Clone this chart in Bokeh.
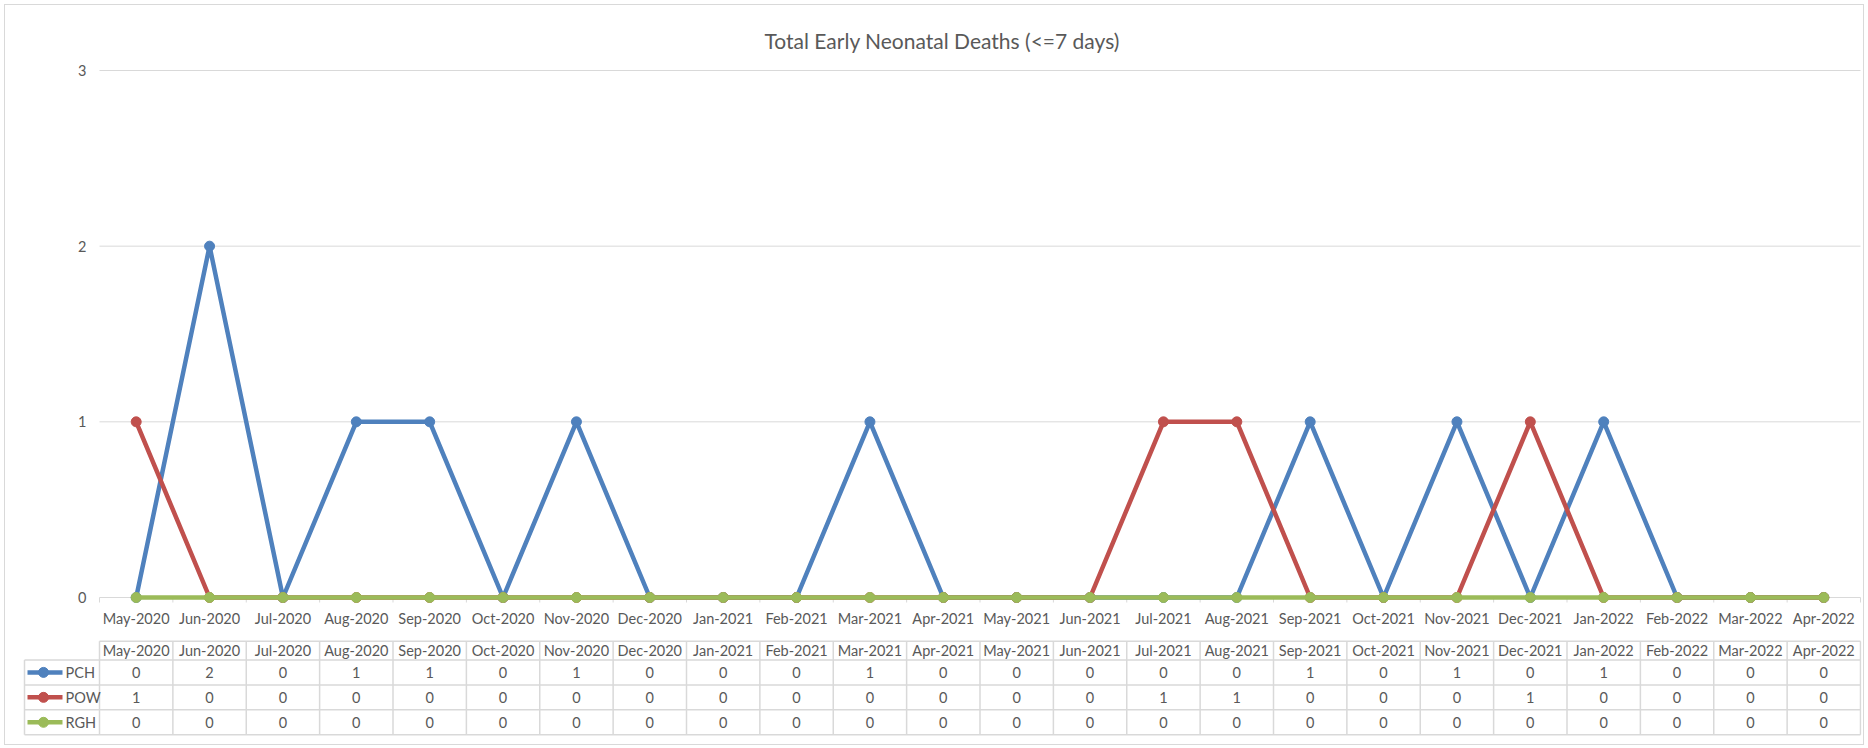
from bokeh.plotting import figure
from bokeh.layouts import column
from bokeh.models import Range1d, FixedTicker, Title
from bokeh.core.properties import value
from bokeh.embed import file_html
from bokeh.resources import INLINE

# ---------------- data ----------------
months = ["May-2020", "Jun-2020", "Jul-2020", "Aug-2020", "Sep-2020", "Oct-2020",
          "Nov-2020", "Dec-2020", "Jan-2021", "Feb-2021", "Mar-2021", "Apr-2021",
          "May-2021", "Jun-2021", "Jul-2021", "Aug-2021", "Sep-2021", "Oct-2021",
          "Nov-2021", "Dec-2021", "Jan-2022", "Feb-2022", "Mar-2022", "Apr-2022"]
pch = [0, 2, 0, 1, 1, 0, 1, 0, 0, 0, 1, 0, 0, 0, 0, 0, 1, 0, 1, 0, 1, 0, 0, 0]
pow_ = [1, 0, 0, 0, 0, 0, 0, 0, 0, 0, 0, 0, 0, 0, 1, 1, 0, 0, 0, 1, 0, 0, 0, 0]
rgh = [0, 0, 0, 0, 0, 0, 0, 0, 0, 0, 0, 0, 0, 0, 0, 0, 0, 0, 0, 0, 0, 0, 0, 0]
series_names = ["PCH", "POW", "RGH"]
series_colors = ["#4F81BD", "#C0504D", "#9BBB59"]
y_ticks = [0, 1, 2, 3]
title_text = "Total Early Neonatal Deaths (<=7 days)"

# ---------------- style ----------------
FONT = "Lato"
TXT = "#595959"
GRID = "#D9D9D9"
LW = 4.5
MS = 10
FS = "14.5px"

n = len(months)
series = [pch, pow_, rgh]
xs = list(range(n))

W = 1858
H1 = 630
H2 = 109
PPX = 1761 / n           # pixels per category
PPY = 527 / 3            # pixels per unit on the value axis
LEG_PX = 75              # width of the legend column of the data table

x_lo = -0.5 - (LEG_PX + 2) / PPX
x_hi = n - 0.5 + 1 / PPX
tab_left = -0.5 - LEG_PX / PPX
bounds = [i - 0.5 for i in range(n + 1)]

# ---------------- chart ----------------
p = figure(width=W, height=H1,
           x_range=Range1d(x_lo, x_hi),
           y_range=Range1d(-6 / PPY, 3 + 14 / PPY),
           output_backend="svg", toolbar_location=None,
           min_border_left=17, min_border_right=2,
           min_border_top=51, min_border_bottom=32)
p.outline_line_color = None
p.background_fill_color = "white"
p.border_fill_color = "white"
p.title = None
p.add_layout(Title(text=title_text, align="left", offset=742, standoff=8,
                   text_font=FONT, text_font_size="21px", text_font_style="normal",
                   text_color=TXT), "above")

p.xgrid.visible = False
p.ygrid.visible = False

yax = p.yaxis[0]
yax.ticker = FixedTicker(ticks=y_ticks)
yax.fixed_location = -0.5
yax.axis_line_color = None
yax.major_tick_line_color = None
yax.minor_tick_line_color = None
yax.major_tick_out = 0
yax.major_tick_in = 0
yax.minor_tick_out = 0
yax.major_label_standoff = 13
yax.major_label_text_font = FONT
yax.major_label_text_font_size = FS
yax.major_label_text_color = TXT

xax = p.xaxis[0]
xax.ticker = FixedTicker(ticks=xs)
xax.major_label_overrides = {i: m for i, m in enumerate(months)}
xax.axis_line_color = None
xax.major_tick_line_color = None
xax.minor_tick_line_color = None
xax.major_tick_out = 0
xax.major_tick_in = 0
xax.minor_tick_out = 0
xax.major_label_standoff = 6
xax.major_label_text_font = FONT
xax.major_label_text_font_size = FS
xax.major_label_text_color = TXT

# horizontal gridlines over the plot area only
p.segment(x0=[-0.5] * len(y_ticks), y0=y_ticks, x1=[n - 0.5] * len(y_ticks), y1=y_ticks,
          line_color=GRID, line_width=1)
# category boundary tick marks below the zero line
p.segment(x0=bounds, y0=[0] * len(bounds), x1=bounds, y1=[-5 / PPY] * len(bounds),
          line_color=GRID, line_width=1)

for vals, c in zip(series, series_colors):
    p.line(x=xs, y=vals, line_color=c, line_width=LW)
    p.scatter(x=xs, y=vals, size=MS, fill_color=c, line_color=c)

# ---------------- data table ----------------
RPY = 93.6 / 3.75
t = figure(width=W, height=H2,
           x_range=Range1d(x_lo, x_hi),
           y_range=Range1d(3.75 + 1.7 / RPY, -1.7 / RPY),
           output_backend="svg", toolbar_location=None,
           min_border_left=17, min_border_right=2,
           min_border_top=4, min_border_bottom=8)
t.outline_line_color = None
t.axis.visible = False
t.grid.visible = False
t.border_fill_color = "white"

row_edges = [0, 0.75, 1.75, 2.75, 3.75]
hx0 = [-0.5] + [tab_left] * 4
t.segment(x0=hx0, y0=row_edges, x1=[n - 0.5] * 5, y1=row_edges,
          line_color=GRID, line_width=1.5)
t.segment(x0=bounds, y0=[0] * len(bounds), x1=bounds, y1=[3.75] * len(bounds),
          line_color=GRID, line_width=1.5)
t.segment(x0=[tab_left], y0=[0.75], x1=[tab_left], y1=[3.75],
          line_color=GRID, line_width=1.5)

t.text(x=xs, y=[0.375] * n, text=months, text_align="center", text_baseline="middle",
       text_font=value(FONT), text_font_size=FS, text_color=TXT)

for r, (name, vals, c) in enumerate(zip(series_names, series, series_colors)):
    yc = 1.25 + r
    t.text(x=xs, y=[yc] * n, text=[str(v) for v in vals], text_align="center",
           text_baseline="middle", text_font=value(FONT), text_font_size=FS,
           text_color=TXT)
    t.segment(x0=[tab_left + 3 / PPX], y0=[yc], x1=[tab_left + 38 / PPX], y1=[yc],
              line_color=c, line_width=LW)
    t.scatter(x=[tab_left + 19 / PPX], y=[yc], size=MS, fill_color=c, line_color=c)
    t.text(x=[tab_left + 41 / PPX], y=[yc], text=[name], text_align="left",
           text_baseline="middle", text_font=value(FONT), text_font_size=FS,
           text_color=TXT)

layout = column(p, t, spacing=0,
                styles={"margin-left": "4px", "margin-top": "4px",
                        "border": "1px solid #D9D9D9"})

open("out.html", "w").write(file_html(layout, INLINE))
